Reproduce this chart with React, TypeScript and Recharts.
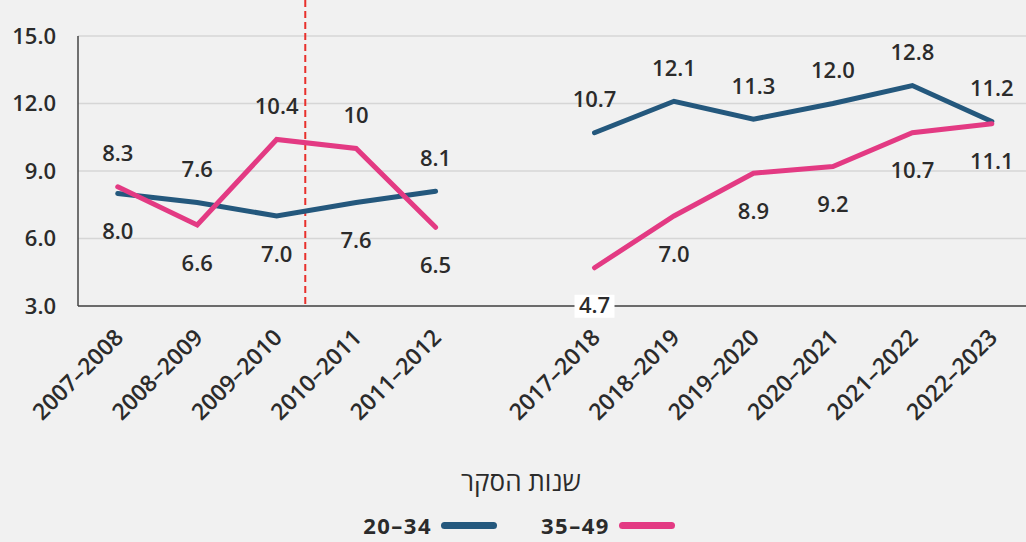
import { LineChart, Line, XAxis, YAxis, CartesianGrid, ReferenceLine, LabelList } from 'recharts';

const periods = [
  '2007–2008', '2008–2009', '2009–2010', '2010–2011', '2011–2012', '',
  '2017–2018', '2018–2019', '2019–2020', '2020–2021', '2021–2022', '2022–2023',
];
const age2034 = [8.0, 7.6, 7.0, 7.6, 8.1, null, 10.7, 12.1, 11.3, 12.0, 12.8, 11.2];
const age3549 = [8.3, 6.6, 10.4, 10, 6.5, null, 4.7, 7.0, 8.9, 9.2, 10.7, 11.1];
// value labels as printed on the chart
const labels2034 = ['8.0', '7.6', '7.0', '7.6', '8.1', '', '10.7', '12.1', '11.3', '12.0', '12.8', '11.2'];
const labels3549 = ['8.3', '6.6', '10.4', '10', '6.5', '', '4.7', '7.0', '8.9', '9.2', '10.7', '11.1'];
const yTicks = [3, 6, 9, 12, 15];
const breakAt = 2.36; // dashed marker between 2009–2010 and 2010–2011
const axisTitle = 'שנות הסקר';
const legendItems = [
  { name: '35–49', color: '#e33a83' },
  { name: '20–34', color: '#24587d' },
];

const BG = '#f1f1f1';
const TEXT = '#2b2b2b';
const FONT = '"Open Sans", "Noto Sans", "DejaVu Sans", sans-serif';

const data = periods.map((p, i) => ({ idx: i, period: p, a: age2034[i], b: age3549[i] }));
const xTicks = periods.map((p, i) => (p ? i : -1)).filter((i) => i >= 0);

function XTick({ x, y, payload }: any) {
  return (
    <text
      transform={`translate(${x + 7},${y + 31}) rotate(-45)`}
      textAnchor="end"
      fontSize={23}
      fontWeight={550}
      fill={TEXT}
      fontFamily={FONT}
    >
      {periods[payload.value]}
    </text>
  );
}

// label above when this series is the higher one at that point, below otherwise
const makeLabel = (own: (number | null)[], other: (number | null)[], texts: string[]) => (props: any) => {
  const { x, y, index, value } = props;
  if (value == null) return null;
  const o = other[index];
  const above = o == null || (own[index] as number) >= o;
  const cy = above ? y - 33 : y + 38;
  const nearAxis = cy > 292;
  return (
    <g>
      {nearAxis && <rect x={x - 20} y={cy - 11} width={40} height={23} fill="#ffffff" />}
      <text
        x={x}
        y={cy}
        dy="0.35em"
        textAnchor="middle"
        fontSize={22}
        fontWeight={600}
        fill={TEXT}
        fontFamily={FONT}
      >
        {texts[index]}
      </text>
    </g>
  );
};

export default function App() {
  return (
    <div style={{ position: 'absolute', left: 0, top: 0, width: 1026, height: 542, background: BG, fontFamily: FONT, overflow: 'hidden' }}>
      <LineChart width={1026} height={542} data={data} margin={{ top: 36, right: 0, left: 0, bottom: 0 }}>
        <CartesianGrid vertical={false} stroke="#d6d6d6" strokeWidth={1.5} />
        <XAxis
          type="number"
          dataKey="idx"
          domain={[-0.5, 11.43]}
          ticks={xTicks}
          allowDataOverflow
          interval={0}
          tick={<XTick />}
          tickLine={false}
          tickSize={0}
          axisLine={{ stroke: '#444', strokeWidth: 1.5 }}
          height={236}
        />
        <YAxis
          domain={[3, 15]}
          ticks={yTicks}
          tickFormatter={(v: number) => v.toFixed(1)}
          tick={{ fontSize: 22, fontWeight: 600, fill: TEXT, fontFamily: FONT }}
          tickLine={false}
          tickSize={0}
          tickMargin={22}
          axisLine={{ stroke: '#444', strokeWidth: 1.5 }}
          width={78}
        />
        <ReferenceLine
          x={breakAt}
          stroke="#e8302c"
          strokeWidth={2}
          strokeDasharray="7 4"
          shape={(p: any) => (
            <line x1={p.x1} x2={p.x2} y1={0} y2={Math.max(p.y1, p.y2)} stroke="#e8302c" strokeWidth={2} strokeDasharray="7 4" />
          )}
        />
        <Line
          dataKey="a"
          stroke="#24587d"
          strokeWidth={5}
          strokeLinecap="round"
          dot={false}
          activeDot={false}
          isAnimationActive={false}
        >
          <LabelList dataKey="a" content={makeLabel(age2034, age3549, labels2034)} />
        </Line>
        <Line
          dataKey="b"
          stroke="#e33a83"
          strokeWidth={5}
          strokeLinecap="round"
          dot={false}
          activeDot={false}
          isAnimationActive={false}
        >
          <LabelList dataKey="b" content={makeLabel(age3549, age2034, labels3549)} />
        </Line>
      </LineChart>
      <div style={{ position: 'absolute', left: 0, width: 1042, top: 463, textAlign: 'center', fontSize: 26, color: TEXT, direction: 'rtl' }}>
        {axisTitle}
      </div>
      <div style={{ position: 'absolute', top: 514, height: 22, left: 0, width: 1038, display: 'flex', justifyContent: 'center', alignItems: 'center', direction: 'rtl', gap: 44 }}>
        {legendItems.map((it) => (
          <div key={it.name} style={{ display: 'flex', alignItems: 'center', gap: 9, height: 22 }}>
            <span style={{ display: 'inline-block', width: 56, height: 7, borderRadius: 4, background: it.color }} />
            <span style={{ fontSize: 22, lineHeight: '22px', letterSpacing: 1.5, fontWeight: 700, color: TEXT, direction: 'ltr' }}>{it.name}</span>
          </div>
        ))}
      </div>
    </div>
  );
}
